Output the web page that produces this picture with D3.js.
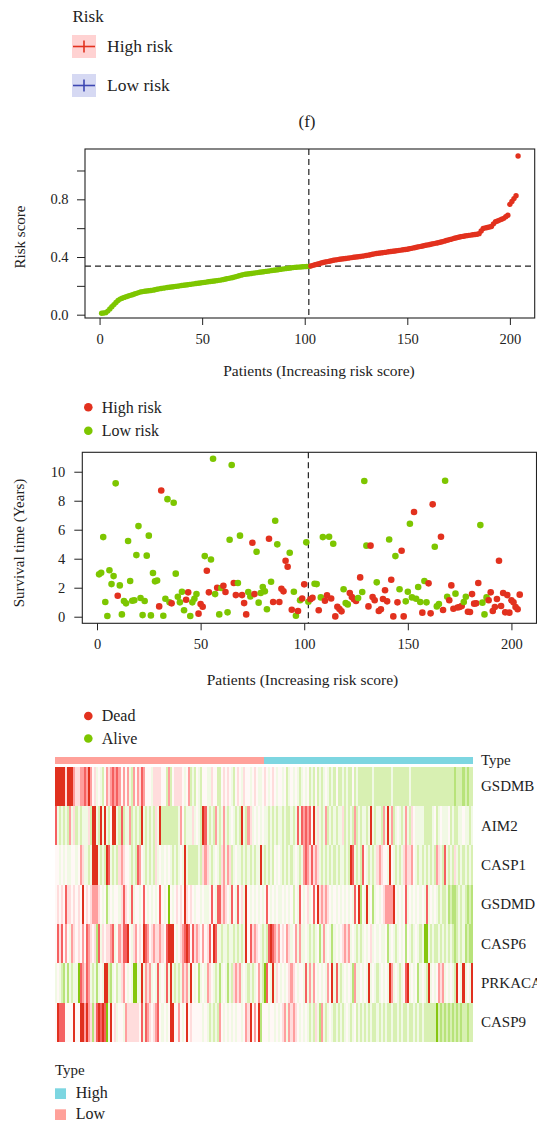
<!DOCTYPE html>
<html>
<head>
<meta charset="utf-8">
<script src="https://cdn.jsdelivr.net/npm/d3@7"></script>
<style>
  body { margin: 0; background: #fff; }
  svg { display: block; }
  text { font-family: "Liberation Serif", "Times New Roman", serif; fill: #222; }
</style>
</head>
<body>
<svg id="fig" width="537" height="1125"></svg>
<script>
// ---------- data ----------
// risk score of each patient, sorted ascending (patients 1..204)
const riskScore = [
  0.010,0.012,0.014,0.025,0.040,0.055,0.070,0.085,0.098,0.108,
  0.114,0.120,0.125,0.130,0.134,0.138,0.143,0.148,0.153,0.158,
  0.160,0.162,0.164,0.166,0.168,0.170,0.173,0.176,0.179,0.182,
  0.184,0.186,0.188,0.190,0.192,0.194,0.196,0.198,0.200,0.202,
  0.204,0.206,0.208,0.210,0.212,0.214,0.216,0.218,0.220,0.222,
  0.224,0.226,0.228,0.230,0.232,0.234,0.236,0.238,0.240,0.243,
  0.246,0.249,0.252,0.255,0.258,0.262,0.266,0.270,0.274,0.278,
  0.280,0.282,0.284,0.286,0.288,0.290,0.292,0.294,0.296,0.298,
  0.300,0.302,0.304,0.306,0.308,0.310,0.312,0.314,0.316,0.318,
  0.320,0.322,0.324,0.326,0.328,0.329,0.330,0.331,0.332,0.333,
  0.334,0.335,0.338,0.342,0.346,0.350,0.354,0.358,0.362,0.365,
  0.368,0.371,0.374,0.377,0.380,0.382,0.384,0.386,0.388,0.390,
  0.392,0.394,0.396,0.398,0.400,0.402,0.404,0.406,0.408,0.410,
  0.413,0.416,0.419,0.422,0.424,0.426,0.428,0.430,0.432,0.434,
  0.436,0.438,0.440,0.442,0.444,0.446,0.448,0.450,0.452,0.454,
  0.457,0.460,0.463,0.466,0.469,0.472,0.475,0.478,0.481,0.484,
  0.487,0.490,0.493,0.496,0.499,0.502,0.506,0.510,0.514,0.518,
  0.522,0.526,0.530,0.534,0.537,0.540,0.543,0.546,0.548,0.550,
  0.552,0.554,0.556,0.558,0.562,0.580,0.598,0.602,0.605,0.608,
  0.612,0.630,0.645,0.650,0.656,0.662,0.668,0.680,0.690,0.765,
  0.785,0.805,0.825,1.100
];
const lowRiskCount = 102;   // first 102 patients are low risk

// survival time in years, same patient order
const survivalYears = [
  2.92,3.03,5.49,1.01,0.05,3.20,2.25,2.80,9.20,1.45,
  2.16,0.16,1.08,0.92,5.22,2.46,1.10,1.13,4.25,6.25,
  1.29,0.11,1.08,4.21,5.59,0.09,3.01,2.44,2.50,0.71,
  8.71,0.07,1.24,8.11,0.99,0.92,7.86,2.97,1.38,0.99,
  1.72,0.44,1.17,1.68,0.05,0.99,1.24,1.56,0.21,0.87,
  0.69,4.18,3.17,1.68,3.95,10.90,1.56,2.00,0.16,1.98,
  2.14,1.70,0.30,5.31,10.46,2.32,1.49,2.32,5.59,1.49,
  0.94,0.16,1.70,1.40,5.10,1.56,4.48,0.97,1.63,2.05,
  1.75,0.51,5.38,2.41,1.01,6.62,4.99,1.01,1.93,1.75,
  3.86,3.45,4.41,0.48,1.72,0.07,0.39,1.13,1.26,2.23,
  5.13,1.03,1.20,1.31,2.27,2.25,0.44,1.33,5.49,1.10,
  1.47,5.52,1.26,5.03,0.02,0.69,0.53,0.37,1.89,0.94,
  0.85,1.63,1.36,1.20,1.08,1.29,2.71,1.70,9.36,4.90,
  0.71,4.90,1.36,1.13,2.37,0.39,0.51,1.22,1.82,1.06,
  5.33,2.55,0.02,4.18,0.99,1.89,4.55,0.02,1.06,1.72,
  6.41,1.33,7.22,1.24,2.05,1.01,0.28,2.46,0.99,2.30,
  0.23,7.75,4.83,0.71,0.87,5.52,0.46,9.38,1.38,1.13,
  2.16,0.55,1.59,0.64,0.67,0.74,1.01,1.38,0.34,0.32,
  1.56,0.90,0.92,2.32,6.32,0.97,0.16,1.33,1.13,1.68,
  0.39,0.67,1.22,3.86,0.74,1.63,0.30,1.49,0.28,1.13,
  0.99,0.67,0.51,1.52
];
// vital status: 1 = dead, 0 = alive
const survivalDead = [
  0,0,0,0,0,0,0,0,0,1, 0,0,0,0,0,0,0,0,0,0,
  0,0,0,0,0,0,0,0,0,1, 1,0,0,0,0,1,0,0,0,0,
  0,0,1,1,0,0,0,0,1,1, 1,0,1,1,0,0,0,1,0,0,
  1,1,0,0,0,1,1,0,0,1, 1,1,0,0,1,1,0,0,0,0,
  0,0,1,0,1,0,0,1,1,1, 1,1,0,1,0,0,1,0,1,1,
  0,0,1,1,0,0,1,0,0,1, 1,0,1,0,1,1,1,1,0,0,
  0,1,1,1,1,0,1,0,0,0, 1,1,1,1,0,1,1,1,1,1,
  0,1,1,0,1,0,1,1,0,0, 0,0,1,0,0,0,1,0,0,1,
  1,1,0,0,0,1,1,0,0,1, 1,1,0,1,1,1,0,0,1,1,
  1,1,1,1,0,0,0,0,1,1, 1,1,1,1,1,1,1,1,1,1,
  1,1,1,1
];

// expression levels per gene (0 = lowest/green, 4 = neutral, 8 = highest/red)
const geneNames = ["GSDMB", "AIM2", "CASP1", "GSDMD", "CASP6", "PRKACA", "CASP9"];
const exprGSDMB = ["8888858886","5566768645","3432465676","7646463264","6576444355","5544262455","5543462324","3244335442","2454543245","4354434543","3454345434","4342343432","3434232423","2343232422","3232242322","2222232222","2222322222","2223222222","2222222222","2222212221","2122"].join("");
const exprAIM2 = ["7323232635","2323335288","3283832488","3272336232","3283232325","3822222222","3642333534","3287323263","2363234323","2832653434","3433232323","3232232373","7676748353","2362323233","5232326232","3323832332","6383623432","3632543333","2222342343","3342322334","3323"].join("");
const exprCASP1 = ["4434343344","3465332388","8323287323","2565443232","7643232325","3434343232","3438322222","3256532343","2563652343","3232323233","8323232434","3232323432","3676575653","2323232323","3232873232","7432323565","4438432323","5655643232","3232326532","7323253232","3232"].join("");
const exprGSDMD = ["4545475545","4548454566","6543413434","4357543734","4347434343","4743404345","4548545434","4343347437","7565437437","4538434343","4347434343","3434342437","4345347485","6565434343","4343437481","4383413434","5666684343","4734343434","3734343232","2312112323","2121"].join("");
const exprCASP6 = ["4757464365","4546476545","1735455673","4657784356","4548764565","5654788843","4567874756","5464574873","3233233232","3238475654","3232787656","4546534636","3343232341","3634313434","5656343232","3434534343","3413432343","4143234323","0032322323","2323212323","1211"].join("");
const exprPRKACA = ["3432131323","3076576323","1343882134","2356434300","3383656343","7343738323","2365638434","1343654323","1343132565","6343232346","3207438354","3434565434","4373636434","3436483732","3434316334","3438343234","3438634323","4783434134","3283434656","3434328438","3438"].join("");
const exprCASP9 = ["4877744448","4488686515","7878703845","3443655555","5473765456","7434348844","6434845444","4434323232","6434343434","4346584648","1444344343","4563656543","4343232531","6323432323","2343234232","3232322323","2322322323","2232232323","2222220212","1212121212","2122"].join("");
const exprRows = [exprGSDMB, exprAIM2, exprCASP1, exprGSDMD, exprCASP6, exprPRKACA, exprCASP9];

// axis ticks
const riskTicks = [0, 0.2, 0.4, 0.6, 0.8, 1.0];
const riskTickLabels = ["0.0", "", "0.4", "", "0.8", ""];
const survivalTicks = [0, 2, 4, 6, 8, 10];
const patientTicks = [0, 50, 100, 150, 200];

// ---------- drawing ----------
const RED = "#E2311E", GREEN = "#7DC600", INK = "#222";
const heatPalette = ["#86C60E","#B8E37A","#D8F0B2","#F1F9E4","#FFF8F6","#FFDCDC","#FF9E9E","#F56060","#E0301E"];
const TYPE_LOW = "#FFA19A", TYPE_HIGH = "#7DD6E1";
const svg = d3.select("#fig");
const patients = riskScore.map((s, i) => ({ id: i + 1, score: s, years: survivalYears[i], dead: survivalDead[i], low: i < lowRiskCount }));

function styleAxis(g, size) {
  g.select(".domain").remove();
  g.selectAll("line").attr("stroke", INK).attr("stroke-width", 1);
  g.selectAll("text").attr("font-size", size).attr("fill", INK)
    .attr("font-family", '"Liberation Serif","Times New Roman",serif');
}

// --- top legend (Risk) ---
svg.append("text").attr("x", 72.5).attr("y", 21.5).attr("font-size", 17).text("Risk");
const riskLegend = [
  { label: "High risk", fill: "#FFD2D2", line: "#E2311E", y: 35 },
  { label: "Low risk", fill: "#D6D9F3", line: "#3D47B2", y: 74 }
];
riskLegend.forEach(d => {
  const g = svg.append("g");
  g.append("rect").attr("x", 72).attr("y", d.y).attr("width", 24).attr("height", 23).attr("fill", d.fill);
  g.append("line").attr("x1", 73).attr("x2", 95).attr("y1", d.y + 11.5).attr("y2", d.y + 11.5).attr("stroke", d.line).attr("stroke-width", 1.6);
  g.append("line").attr("x1", 84).attr("x2", 84).attr("y1", d.y + 5.5).attr("y2", d.y + 17.5).attr("stroke", d.line).attr("stroke-width", 1.6);
  g.append("text").attr("x", 107).attr("y", d.y + 16.5).attr("font-size", 17.5).text(d.label);
});

svg.append("text").attr("x", 307).attr("y", 127).attr("text-anchor", "middle").attr("font-size", 17).text("(f)");

// --- risk score plot ---
const P1 = { l: 85, r: 534.7, t: 149, b: 318 };
const x1 = d3.scaleLinear().domain([-7.1, 212.1]).range([P1.l, P1.r]);
const y1 = d3.scaleLinear().domain([-0.023, 1.149]).range([P1.b, P1.t]);
const cutoff = (riskScore[lowRiskCount - 1] + riskScore[lowRiskCount]) / 2;

svg.append("g").attr("transform", `translate(${P1.l},0)`)
  .call(d3.axisLeft(y1).tickValues(riskTicks).tickFormat((d, i) => riskTickLabels[i]).tickSize(8).tickPadding(8.5))
  .call(g => styleAxis(g, 14.5));
svg.append("g").attr("transform", `translate(0,${P1.b})`)
  .call(d3.axisBottom(x1).tickValues(patientTicks).tickSize(7).tickPadding(8.5))
  .call(g => styleAxis(g, 14.5));

svg.append("line").attr("x1", P1.l).attr("x2", P1.r).attr("y1", y1(cutoff)).attr("y2", y1(cutoff))
  .attr("stroke", INK).attr("stroke-width", 1.2).attr("stroke-dasharray", "6,4");
svg.append("line").attr("x1", x1(lowRiskCount)).attr("x2", x1(lowRiskCount)).attr("y1", P1.t).attr("y2", P1.b)
  .attr("stroke", INK).attr("stroke-width", 1.2).attr("stroke-dasharray", "6,4");

svg.append("g").selectAll("circle").data(patients).join("circle")
  .attr("cx", d => x1(d.id)).attr("cy", d => y1(d.score)).attr("r", 2.7)
  .attr("fill", d => d.low ? GREEN : RED);

svg.append("rect").attr("x", P1.l).attr("y", P1.t).attr("width", P1.r - P1.l).attr("height", P1.b - P1.t)
  .attr("fill", "none").attr("stroke", INK).attr("stroke-width", 1.1);

svg.append("text").attr("transform", "translate(25,237) rotate(-90)").attr("text-anchor", "middle")
  .attr("font-size", 15).text("Risk score");
svg.append("text").attr("x", 319).attr("y", 376).attr("text-anchor", "middle").attr("font-size", 15.5)
  .text("Patients (Increasing risk score)");

// --- survival legend ---
[{ label: "High risk", c: RED, y: 407.3 }, { label: "Low risk", c: GREEN, y: 430.7 }].forEach(d => {
  svg.append("circle").attr("cx", 88.3).attr("cy", d.y).attr("r", 4.3).attr("fill", d.c);
  svg.append("text").attr("x", 101.7).attr("y", d.y + 5.2).attr("font-size", 16).text(d.label);
});

// --- survival plot ---
const P2 = { l: 82.3, r: 536.5, t: 452.3, b: 623.3 };
const x2 = d3.scaleLinear().domain([-7.1, 212.1]).range([P2.l, P2.r]);
const y2 = d3.scaleLinear().domain([-0.455, 11.34]).range([P2.b, P2.t]);

svg.append("g").attr("transform", `translate(${P2.l},0)`)
  .call(d3.axisLeft(y2).tickValues(survivalTicks).tickSize(8).tickPadding(9))
  .call(g => styleAxis(g, 14.5));
svg.append("g").attr("transform", `translate(0,${P2.b})`)
  .call(d3.axisBottom(x2).tickValues(patientTicks).tickSize(7).tickPadding(8.5))
  .call(g => styleAxis(g, 14.5));

svg.append("line").attr("x1", x2(lowRiskCount)).attr("x2", x2(lowRiskCount)).attr("y1", P2.t).attr("y2", P2.b)
  .attr("stroke", INK).attr("stroke-width", 1.2).attr("stroke-dasharray", "6,4");

svg.append("g").selectAll("circle").data(patients).join("circle")
  .attr("cx", d => x2(d.id)).attr("cy", d => y2(d.years)).attr("r", 3.3)
  .attr("fill", d => d.dead ? RED : GREEN);

svg.append("rect").attr("x", P2.l).attr("y", P2.t).attr("width", P2.r - P2.l).attr("height", P2.b - P2.t)
  .attr("fill", "none").attr("stroke", INK).attr("stroke-width", 1.1);

svg.append("text").attr("transform", "translate(24,543) rotate(-90)").attr("text-anchor", "middle")
  .attr("font-size", 15).text("Survival time (Years)");
svg.append("text").attr("x", 302.5).attr("y", 685).attr("text-anchor", "middle").attr("font-size", 15.5)
  .text("Patients (Increasing risk score)");

// --- status legend ---
[{ label: "Dead", c: RED, y: 716 }, { label: "Alive", c: GREEN, y: 738.5 }].forEach(d => {
  svg.append("circle").attr("cx", 88.3).attr("cy", d.y).attr("r", 4.3).attr("fill", d.c);
  svg.append("text").attr("x", 101.7).attr("y", d.y + 5.2).attr("font-size", 16).text(d.label);
});

// --- expression heatmap ---
const H = { l: 55, r: 472.7, typeT: 756.7, typeB: 764.3, t: 766.7, b: 1042 };
const cols = d3.scaleBand().domain(d3.range(riskScore.length)).range([H.l, H.r]);
const rows = d3.scaleBand().domain(geneNames).range([H.t, H.b]);
const heatColor = d3.scaleOrdinal().domain(d3.range(9)).range(heatPalette);

svg.append("g").selectAll("rect").data(patients).join("rect")
  .attr("x", (d, i) => cols(i)).attr("y", H.typeT)
  .attr("width", cols.bandwidth() + 0.4).attr("height", H.typeB - H.typeT)
  .attr("fill", d => d.low ? TYPE_LOW : TYPE_HIGH).attr("shape-rendering", "crispEdges");

const cells = [];
geneNames.forEach((g, r) => {
  for (let i = 0; i < exprRows[r].length; i++) cells.push({ gene: g, col: i, level: +exprRows[r][i] });
});
svg.append("g").selectAll("rect").data(cells).join("rect")
  .attr("x", d => cols(d.col)).attr("y", d => rows(d.gene))
  .attr("width", cols.bandwidth() + 0.4).attr("height", rows.bandwidth() + 0.4)
  .attr("fill", d => heatColor(d.level)).attr("shape-rendering", "crispEdges");

svg.append("text").attr("x", 481).attr("y", 765).attr("font-size", 15).text("Type");
svg.append("g").selectAll("text").data(geneNames).join("text")
  .attr("x", 481).attr("y", d => rows(d) + rows.bandwidth() / 2 + 5)
  .attr("font-size", 15).text(d => d);

// --- type legend ---
svg.append("text").attr("x", 55).attr("y", 1074.5).attr("font-size", 15).text("Type");
[{ label: "High", c: TYPE_HIGH, y: 1088.3 }, { label: "Low", c: TYPE_LOW, y: 1109.3 }].forEach(d => {
  svg.append("rect").attr("x", 55).attr("y", d.y).attr("width", 11).attr("height", 10.7).attr("fill", d.c);
  svg.append("text").attr("x", 75.7).attr("y", d.y + 9.5).attr("font-size", 16).text(d.label);
});
</script>
</body>
</html>
